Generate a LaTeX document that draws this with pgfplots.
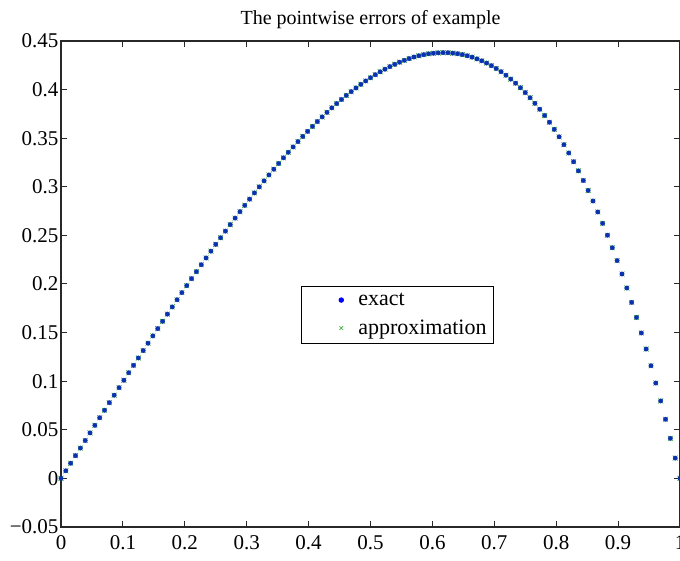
\documentclass[border=0pt]{standalone}
\usepackage{fontspec}
\setmainfont{Liberation Serif}
\usepackage{pgfplots}
\pgfplotsset{compat=1.18}

\definecolor{exactblue}{RGB}{0,0,255}
\definecolor{dotblue}{RGB}{10,50,175}
\definecolor{approxgreen}{RGB}{60,170,60}
\definecolor{axisgray}{RGB}{40,40,40}

\pgfplotstableread{
x y
0 0
0.0078 0.0078
0.0156 0.0156
0.0234 0.0234
0.0313 0.0312
0.0391 0.0390
0.0469 0.0468
0.0547 0.0546
0.0625 0.0624
0.0703 0.0701
0.0781 0.0779
0.0859 0.0856
0.0938 0.0933
0.1016 0.1010
0.1094 0.1087
0.1172 0.1163
0.125 0.1239
0.1328 0.1315
0.1406 0.1391
0.1484 0.1466
0.1563 0.1541
0.1641 0.1616
0.1719 0.1690
0.1797 0.1764
0.1875 0.1838
0.1953 0.1911
0.2031 0.1983
0.2109 0.2055
0.2188 0.2127
0.2266 0.2198
0.2344 0.2268
0.2422 0.2338
0.25 0.2408
0.2578 0.2476
0.2656 0.2544
0.2734 0.2611
0.2813 0.2678
0.2891 0.2744
0.2969 0.2809
0.3047 0.2873
0.3125 0.2937
0.3203 0.2999
0.3281 0.3061
0.3359 0.3122
0.3438 0.3181
0.3516 0.3240
0.3594 0.3298
0.3672 0.3355
0.375 0.3410
0.3828 0.3465
0.3906 0.3518
0.3984 0.3570
0.4063 0.3621
0.4141 0.3671
0.4219 0.3719
0.4297 0.3766
0.4375 0.3812
0.4453 0.3856
0.4531 0.3898
0.4609 0.3940
0.4688 0.3979
0.4766 0.4017
0.4844 0.4054
0.4922 0.4089
0.5 0.4122
0.5078 0.4153
0.5156 0.4183
0.5234 0.4210
0.5313 0.4236
0.5391 0.4260
0.5469 0.4282
0.5547 0.4301
0.5625 0.4319
0.5703 0.4335
0.5781 0.4348
0.5859 0.4359
0.5938 0.4368
0.6016 0.4374
0.6094 0.4378
0.6172 0.4380
0.625 0.4379
0.6328 0.4375
0.6406 0.4369
0.6484 0.4360
0.6563 0.4348
0.6641 0.4334
0.6719 0.4316
0.6797 0.4296
0.6875 0.4273
0.6953 0.4246
0.7031 0.4217
0.7109 0.4184
0.7188 0.4148
0.7266 0.4108
0.7344 0.4066
0.7422 0.4019
0.75 0.3969
0.7578 0.3916
0.7656 0.3859
0.7734 0.3798
0.7813 0.3733
0.7891 0.3664
0.7969 0.3591
0.8047 0.3514
0.8125 0.3433
0.8203 0.3348
0.8281 0.3258
0.8359 0.3164
0.8438 0.3065
0.8516 0.2962
0.8594 0.2854
0.8672 0.2741
0.875 0.2624
0.8828 0.2502
0.8906 0.2373
0.8984 0.2241
0.9063 0.2103
0.9141 0.1959
0.9219 0.1811
0.9297 0.1656
0.9375 0.1496
0.9453 0.1331
0.9531 0.1159
0.9609 0.0981
0.9688 0.0797
0.9766 0.0608
0.9844 0.0412
0.9922 0.0209
1 0
}\curvedata

\begin{document}
\begin{tikzpicture}
\begin{axis}[
    scale only axis,
    width=619pt, height=486pt,
    xmin=0, xmax=1, ymin=-0.05, ymax=0.45,
    xtick={0,0.1,...,1.01},
    xticklabels={0,0.1,0.2,0.3,0.4,0.5,0.6,0.7,0.8,0.9,1},
    ytick={-0.05,0,0.05,0.1,0.15,0.2,0.25,0.3,0.35,0.4,0.45},
    yticklabels={−0.05,0,0.05,0.1,0.15,0.2,0.25,0.3,0.35,0.4,0.45},
    tick align=inside,
    major tick length=6pt,
    tick style={axisgray, line width=1pt},
    axis line style={axisgray, line width=1.3pt},
    every tick label/.append style={font=\fontsize{21}{24}\selectfont},
    xticklabel style={anchor=base, yshift=-23pt},
    yticklabel style={xshift=1pt},
    title={The pointwise errors of example},
    title style={font=\fontsize{20}{24}\selectfont, anchor=base, yshift=10pt},
    legend cell align=left,
    legend image code/.code={
        \path[draw=none,fill=none] (0pt,0pt) -- (50pt,0pt);
        \draw[#1, /tikz/only marks] plot coordinates {(35pt,0pt)};
    },
    legend style={
        at={(rel axis cs:0.5435,0.437)}, anchor=center,
        draw=black, line width=1pt,
        font=\fontsize{22}{24}\selectfont,
        inner xsep=5pt, inner ysep=5pt,
        row sep=9pt,
        /tikz/every even column/.append style={column sep=9pt}
    },
    clip=false,
]
\addplot[only marks, mark=x, mark size=3.5pt, color=approxgreen, mark options={line width=0.6pt}, forget plot] table {\curvedata};
\addplot[only marks, mark=*, mark size=2.2pt, color=dotblue, forget plot] table {\curvedata};
\addlegendimage{only marks, mark=*, mark size=2.2pt, color=exactblue}
\addlegendentry{exact}
\addlegendimage{only marks, mark=x, mark size=2.6pt, color=approxgreen, mark options={line width=0.6pt}}
\addlegendentry{approximation}
\end{axis}
\pgfresetboundingbox
\useasboundingbox ([xshift=-61pt,yshift=-34pt]current axis.south west) rectangle ([yshift=41pt]current axis.north east);
\end{tikzpicture}
\end{document}
